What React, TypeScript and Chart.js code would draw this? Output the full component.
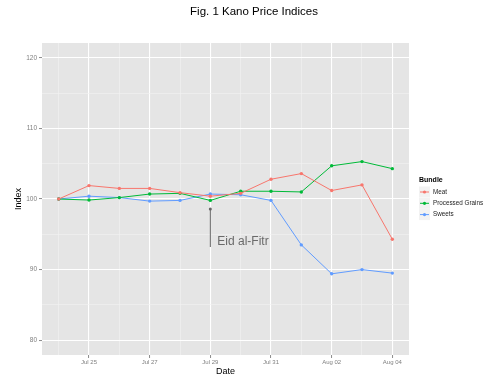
import React, { useEffect, useRef } from "react";
import { Chart, registerables } from "chart.js";

Chart.register(...registerables);

const dates = ["Jul 24", "Jul 25", "Jul 26", "Jul 27", "Jul 28", "Jul 29", "Jul 30", "Jul 31", "Aug 01", "Aug 02", "Aug 03", "Aug 04"];
const meat = [100, 101.9, 101.5, 101.5, 100.9, 100.4, 100.8, 102.8, 103.6, 101.2, 102.0, 94.3];
const grains = [100, 99.85, 100.2, 100.7, 100.8, 99.8, 101.1, 101.1, 101.0, 104.7, 105.3, 104.3];
const sweets = [100, 100.4, 100.2, 99.7, 99.8, 100.7, 100.6, 99.8, 93.5, 89.4, 90.0, 89.5];
const seriesNames = ["Meat", "Processed Grains", "Sweets"];
const seriesColors = ["#F8766D", "#00BA38", "#619CFF"];
const yTicks = [80, 85, 90, 95, 100, 105, 110, 115, 120];
const annotationLabel = "Eid al-Fitr";
const annotationIndex = 5;
const annotationTop = 98.6;
const annotationBottom = 93.2;
const annotationTextY = 93.9;

const FONT = "'Liberation Sans', Arial, sans-serif";

const decorPlugin = {
  id: "decor",
  beforeDraw(chart: any) {
    const { ctx, chartArea } = chart;
    ctx.save();
    ctx.fillStyle = "#E5E5E5";
    ctx.fillRect(chartArea.left, chartArea.top, chartArea.right - chartArea.left, chartArea.bottom - chartArea.top);
    ctx.restore();
  },
  afterDraw(chart: any) {
    const { ctx, chartArea, scales } = chart;
    const x = scales.x;
    const y = scales.y;
    ctx.save();
    // title
    ctx.fillStyle = "#000";
    ctx.font = `11.5px ${FONT}`;
    ctx.textAlign = "center";
    ctx.textBaseline = "middle";
    ctx.fillText("Fig. 1 Kano Price Indices", 254, 12);
    // axis titles
    ctx.font = `9px ${FONT}`;
    ctx.fillText("Date", (chartArea.left + chartArea.right) / 2, 372);
    ctx.save();
    ctx.translate(19, (chartArea.top + chartArea.bottom) / 2);
    ctx.rotate(-Math.PI / 2);
    ctx.fillText("Index", 0, 0);
    ctx.restore();
    // annotation
    const ax = x.getPixelForValue(annotationIndex);
    ctx.strokeStyle = "#666666";
    ctx.lineWidth = 1;
    ctx.beginPath();
    ctx.moveTo(ax, y.getPixelForValue(annotationTop));
    ctx.lineTo(ax, y.getPixelForValue(annotationBottom));
    ctx.stroke();
    ctx.fillStyle = "#666666";
    ctx.beginPath();
    ctx.arc(ax, y.getPixelForValue(annotationTop), 1.5, 0, Math.PI * 2);
    ctx.fill();
    ctx.font = `12px ${FONT}`;
    ctx.textAlign = "left";
    ctx.fillStyle = "#6a6a6a";
    ctx.fillText(annotationLabel, x.getPixelForValue(annotationIndex + 0.23), y.getPixelForValue(annotationTextY));
    // legend
    ctx.fillStyle = "#000";
    ctx.font = `bold 7px ${FONT}`;
    ctx.fillText("Bundle", 419, 180);
    ctx.font = `6.3px ${FONT}`;
    seriesNames.forEach((name, i) => {
      const cy = 192 + i * 11.3;
      ctx.fillStyle = "#F2F2F2";
      ctx.fillRect(419, cy - 5.5, 11, 11);
      ctx.strokeStyle = seriesColors[i];
      ctx.lineWidth = 1;
      ctx.beginPath();
      ctx.moveTo(420, cy);
      ctx.lineTo(429, cy);
      ctx.stroke();
      ctx.fillStyle = seriesColors[i];
      ctx.beginPath();
      ctx.arc(424.5, cy, 1.6, 0, Math.PI * 2);
      ctx.fill();
      ctx.fillStyle = "#222";
      ctx.fillText(name, 433, cy);
    });
    ctx.restore();
  },
};

export default function App() {
  const ref = useRef<HTMLCanvasElement | null>(null);
  useEffect(() => {
    if (!ref.current) return;
    const mk = (label: string, data: number[], color: string) => ({
      label,
      data: data.map((v, i) => ({ x: i, y: v })),
      borderColor: color,
      backgroundColor: color,
      borderWidth: 1,
      pointRadius: 1.7,
      pointBorderWidth: 0,
      tension: 0,
    });
    const chart = new Chart(ref.current, {
      type: "line",
      data: {
        datasets: [
          mk(seriesNames[0], meat, seriesColors[0]),
          mk(seriesNames[1], grains, seriesColors[1]),
          mk(seriesNames[2], sweets, seriesColors[2]),
        ],
      },
      options: {
        animation: false,
        responsive: false,
        devicePixelRatio: 1,
        layout: { padding: { left: 0, right: 79, top: 43, bottom: 0 } },
        plugins: { legend: { display: false }, tooltip: { enabled: false }, title: { display: false } },
        scales: {
          x: {
            type: "linear",
            min: -0.55,
            max: dates.length - 1 + 0.55,
            afterBuildTicks: (s: any) => {
              s.ticks = dates.map((_, i) => ({ value: i }));
            },
            afterFit: (s: any) => {
              s.height = 29;
            },
            border: { display: false },
            grid: {
              color: (c: any) => (c.tick && c.tick.value % 2 === 1 ? "#FFFFFF" : "#F2F2F2"),
              lineWidth: (c: any) => (c.tick && c.tick.value % 2 === 1 ? 1.1 : 0.6),
              tickColor: (c: any) => (c.tick && c.tick.value % 2 === 1 ? "#8a8a8a" : "rgba(0,0,0,0)"),
              tickLength: 3,
              tickWidth: 1,
            },
            ticks: {
              autoSkip: false,
              maxRotation: 0,
              padding: 1,
              color: "#7F7F7F",
              font: { family: FONT, size: 6 },
              callback: (v: any) => (v % 2 === 1 ? dates[v] : ""),
            },
          },
          y: {
            type: "linear",
            min: 77.9,
            max: 122.1,
            afterBuildTicks: (s: any) => {
              s.ticks = yTicks.map((v) => ({ value: v }));
            },
            afterFit: (s: any) => {
              s.width = 42;
            },
            border: { display: false },
            grid: {
              color: (c: any) => (c.tick && c.tick.value % 10 === 0 ? "#FFFFFF" : "#F2F2F2"),
              lineWidth: (c: any) => (c.tick && c.tick.value % 10 === 0 ? 1.1 : 0.6),
              tickColor: (c: any) => (c.tick && c.tick.value % 10 === 0 ? "#8a8a8a" : "rgba(0,0,0,0)"),
              tickLength: 3,
              tickWidth: 1,
            },
            ticks: {
              padding: 2,
              color: "#7F7F7F",
              font: { family: FONT, size: 6.5 },
              callback: (v: any) => (v % 10 === 0 ? String(v) : ""),
            },
          },
        },
      },
      plugins: [decorPlugin],
    } as any);
    return () => chart.destroy();
  }, []);
  return (
    <div style={{ position: "fixed", left: 0, top: 0, width: 488, height: 384, background: "#fff" }}>
      <canvas ref={ref} width={488} height={384} style={{ display: "block", width: 488, height: 384 }} />
    </div>
  );
}
